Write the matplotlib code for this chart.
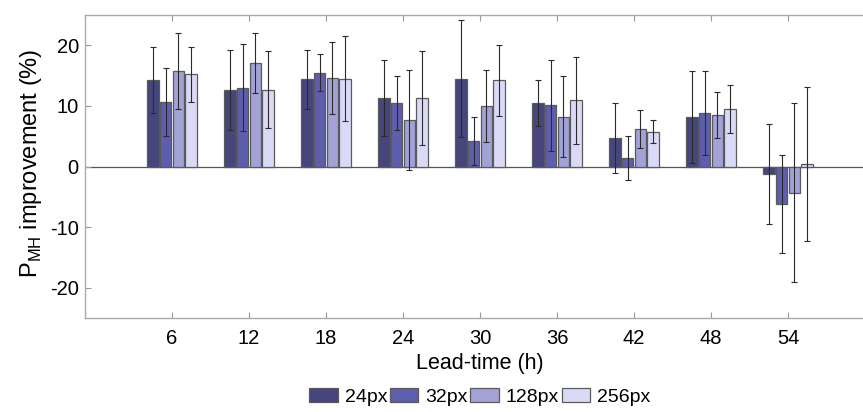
import numpy as np
import matplotlib
matplotlib.use('Agg')
import matplotlib.pyplot as plt

plt.rcParams['font.family'] = ['Liberation Sans', 'DejaVu Sans']
plt.rcParams['axes.unicode_minus'] = False

# Lead times (h)
lead_times = ['6', '12', '18', '24', '30', '36', '42', '48', '54']
series = ['24px', '32px', '128px', '256px']

# mean improvement (%) per patch size
px24 = [14.3, 12.6, 14.4, 11.3, 14.5, 10.5, 4.7, 8.1, -1.2]
px32 = [10.7, 13.0, 15.5, 10.5, 4.2, 10.1, 1.4, 8.8, -6.2]
px128 = [15.8, 17.1, 14.6, 7.7, 10.0, 8.2, 6.2, 8.5, -4.3]
px256 = [15.2, 12.7, 14.5, 11.3, 14.2, 10.9, 5.7, 9.5, 0.4]

# error bar half-lengths
err24 = [5.4, 6.6, 4.9, 6.2, 9.7, 3.8, 5.7, 7.6, 8.2]
err32 = [5.6, 7.2, 3.1, 4.5, 3.9, 7.5, 3.6, 6.9, 8.1]
err128 = [6.3, 5.0, 5.9, 8.3, 6.0, 6.7, 3.2, 3.8, 14.8]
err256 = [4.5, 6.3, 7.0, 7.7, 5.9, 7.2, 1.9, 3.9, 12.7]

values = [px24, px32, px128, px256]
errors = [err24, err32, err128, err256]
colors = ['#46467c', '#5e5eae', '#a2a2d6', '#dadaf7']

fig = plt.figure(figsize=(8.63, 4.12), dpi=100)
# axes runs a little past the right edge of the picture (cropped like the original)
ax = fig.add_axes([0.0985, 0.228, 0.9154, 0.7356])

x = np.arange(1, len(lead_times) + 1)
step = 0.165
width = 0.145
for i, (vals, errs, c) in enumerate(zip(values, errors, colors)):
    pos = x + (i - 1.5) * step
    ax.bar(pos, vals, width, color=c, edgecolor='#5a5a5a', linewidth=0.9,
           label=series[i], zorder=2)
    ax.errorbar(pos, vals, yerr=errs, fmt='none', ecolor='#2a2a2a',
                elinewidth=0.8, capsize=2.5, capthick=0.8, zorder=3)

ax.axhline(0, color='#555555', linewidth=0.9, zorder=1)

ax.set_xlim(-0.13, 10.13)
ax.set_ylim(-25, 25)
ax.set_xticks(x)
ax.set_xticklabels(lead_times)
ax.set_yticks([-20, -10, 0, 10, 20])
ax.tick_params(direction='in', top=True, right=True, labelsize=14.5,
               length=4, color='#999999')
ax.tick_params(axis='x', pad=8)
ax.tick_params(axis='y', pad=4.5)
for s in ax.spines.values():
    s.set_color('#aaaaaa')
    s.set_linewidth(1.0)

ax.set_xlabel('Lead-time (h)', fontsize=15.5)
ax.xaxis.set_label_coords(0.5, -0.115)
ax.set_ylabel('P$_{\\mathregular{MH}}$ improvement (%)', fontsize=17)
ax.yaxis.set_label_coords(-0.052, 0.51)

fig.legend(loc='center', bbox_to_anchor=(0.556, 0.036), ncol=4,
           frameon=False, fontsize=14, handlelength=1.45, handleheight=0.7,
           handletextpad=0.36, columnspacing=0.15, borderaxespad=0)

fig.savefig('out.png', dpi=100)
